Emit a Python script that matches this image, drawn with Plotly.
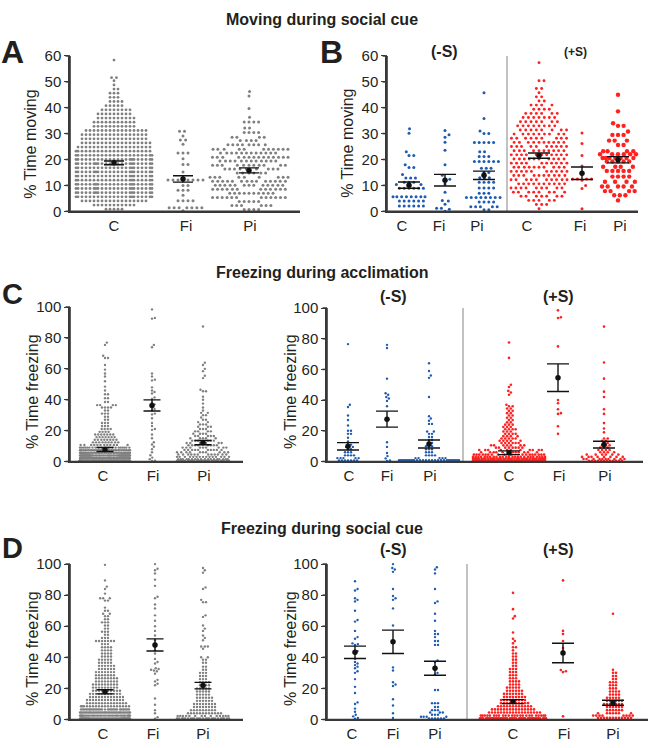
import numpy as np
import plotly.graph_objects as go

W_PX, H_PX = 648, 748
FONT = "Liberation Sans, Arial, sans-serif"
INK = "#231f20"
AXC = "#383838"
GREY = "#808080"
BLUE = "#1e5cb3"
RED = "#ff2020"

CATS3 = ["C", "Fi", "Pi"]
CATS6 = ["C", "Fi", "Pi", "C", "Fi", "Pi"]

# ---------------- data (value levels and number of animals at each level) ----------------
# Panel A : moving during social cue
A_C_v = [0.8, 2.4, 4.0, 5.6, 7.2, 8.8, 10.4, 12.0, 13.6, 15.2, 16.8, 18.4, 20.0, 21.6, 23.2, 24.8, 26.4,
         28.0, 29.6, 31.2, 32.8, 34.4, 36.0, 37.6, 39.2, 40.8, 42.4, 44.0, 45.6, 47.2, 48.8, 50.4, 51.6, 58.4]
A_C_n = [5, 11, 17, 22, 23, 23, 23, 22, 22, 23, 22, 23, 22, 21, 20, 19, 18,
         17, 17, 16, 11, 11, 10, 9, 8, 5, 4, 3, 3, 2, 1, 1, 2, 1]
A_Fi_v = [0.2, 1.4, 4.1, 6.2, 8.1, 10.0, 12.1, 15.2, 18.1, 20.3, 22.5, 25.9, 27.5, 29.1, 30.9]
A_Fi_n = [1, 7, 4, 1, 3, 2, 8, 1, 2, 1, 3, 1, 2, 1, 2]
A_Pi_v = [0.7, 2.2, 3.8, 5.3, 7.0, 8.5, 10.1, 11.6, 13.1, 14.8, 16.3, 17.8, 19.4, 20.9, 22.5, 24.0,
          25.7, 27.3, 28.6, 30.4, 32.2, 34.5, 36.3, 39.7, 44.5, 46.3]
A_Pi_n = [4, 6, 5, 12, 10, 12, 13, 14, 9, 6, 9, 11, 12, 14, 12, 11, 8, 4, 4, 4, 2, 4, 1, 1, 1, 1]
A_mean = [18.7, 12.5, 15.8]
A_sem = [0.75, 1.25, 0.95]

# Panel B : moving during social cue, split by (-S) / (+S)
B_Cm_v = [2.0, 4.0, 5.6, 8.9, 10.3, 11.2, 12.9, 14.2, 16.9, 18.0, 21.5, 23.0, 30.1, 31.9]
B_Cm_n = [6, 6, 8, 6, 2, 3, 3, 1, 2, 1, 2, 1, 1, 1]
B_Fim_v = [0.0, 0.8, 1.2, 2.7, 4.0, 4.2, 7.4, 10.5, 12.4, 13.9, 18.0, 23.6, 26.7, 28.6, 29.6, 31.2]
B_Fim_n = [1, 1, 2, 1, 1, 1, 1, 1, 2, 1, 1, 1, 1, 1, 1, 1]
B_Pim_v = [0.6, 1.8, 3.6, 5.3, 7.0, 9.0, 11.2, 13.0, 15.0, 16.6, 19.2, 21.2, 23.0, 26.6, 30.0, 31.0, 35.8, 45.8]
B_Pim_n = [2, 5, 4, 8, 3, 4, 4, 3, 2, 3, 6, 3, 2, 5, 2, 1, 1, 1]
B_Cp_v = [1.0, 2.6, 4.2, 5.8, 7.4, 9.0, 10.6, 12.2, 13.8, 15.4, 17.0, 18.6, 20.2, 21.8, 23.4, 25.0,
          26.6, 28.2, 29.8, 31.4, 33.0, 34.6, 36.2, 37.8, 39.4, 41.0, 42.6, 44.2, 45.8, 47.4, 50.4, 57.4]
B_Cp_n = [1, 3, 5, 7, 8, 9, 10, 10, 10, 10, 10, 10, 10, 11, 10, 10,
          10, 9, 9, 8, 8, 7, 7, 6, 4, 4, 2, 2, 1, 2, 2, 1]
B_Fip_v = [1.0, 8.8, 10.0, 12.0, 12.5, 17.5, 21.5, 26.2, 30.2]
B_Fip_n = [1, 1, 1, 1, 4, 1, 1, 1, 1]
B_Pip_v = [4.2, 6.2, 7.8, 9.6, 11.4, 13.4, 15.6, 17.2, 19.2, 20.6, 22.0, 23.2, 25.6, 27.3, 29.5, 30.8,
           33.0, 34.0, 38.6, 45.0]
B_Pip_n = [1, 3, 4, 5, 4, 4, 5, 4, 5, 7, 6, 4, 2, 3, 3, 1, 2, 1, 1, 1]
B_mean = [10.1, 12.0, 13.9, 21.5, 14.7, 19.9]
B_sem = [1.2, 2.25, 1.6, 1.0, 2.4, 1.2]

# Panel C left : freezing during acclimation
CL_C_v = [0.5, 2.2, 3.9, 5.6, 7.3, 9.0, 10.7, 12.4, 14.1, 15.8, 17.5, 19.2, 21.0, 23.0, 25.0, 27.0, 29.0,
          31.0, 33.0, 35.0, 36.5, 38.5, 41.0, 43.5, 46.0, 48.5, 52.0, 55.0, 57.0, 59.5, 62.5, 67.0, 68.5,
          75.5, 77.0]
CL_C_n = [110, 80, 55, 45, 32, 20, 12, 9, 8, 7, 7, 4, 4, 3, 3, 2, 2,
          3, 2, 4, 4, 2, 2, 2, 1, 1, 1, 1, 1, 1, 1, 2, 1, 1, 1]
CL_Fi_v = [0.3, 0.5, 1.5, 2.5, 4.0, 6.0, 8.0, 9.5, 11.0, 12.5, 15.0, 17.5, 20.5, 21.0, 23.0, 25.0, 28.0,
           30.5, 31.0, 33.0, 34.0, 36.0, 37.0, 38.0, 40.5, 41.5, 44.0, 45.0, 46.0, 48.0, 52.5, 53.0, 55.0,
           57.0, 74.0, 75.5, 92.5, 93.0, 98.5]
CL_Pi_v = [0.5, 1.5, 3.0, 4.5, 6.0, 7.5, 9.0, 10.5, 12.0, 13.5, 15.0, 16.5, 18.0, 19.5, 21.0, 22.5, 24.0,
           25.5, 27.0, 28.5, 30.0, 31.5, 33.0, 35.0, 37.5, 40.0, 42.0, 45.5, 46.5, 54.0, 55.5, 58.5, 60.0,
           62.5, 64.0, 87.4]
CL_Pi_n = [30, 18, 15, 12, 10, 10, 9, 8, 7, 6, 5, 5, 4, 4, 3, 3, 3,
           2, 2, 1, 2, 2, 1, 1, 1, 1, 1, 2, 1, 1, 1, 1, 1, 1, 1, 1]
CL_mean = [7.8, 36.3, 12.2]
CL_sem = [1.3, 3.6, 1.4]

# Panel C right : freezing during acclimation, (-S) / (+S)
CR_Cm_v = [0.6, 2.2, 4.0, 6.0, 8.0, 9.5, 11.0, 13.0, 15.5, 18.0, 20.0, 23.5, 27.0, 30.0, 35.5, 37.0, 76.5]
CR_Cm_n = [7, 5, 4, 3, 2, 2, 2, 1, 1, 2, 2, 1, 1, 1, 1, 1, 1]
CR_Fim_v = [0.3, 0.6, 2.0, 3.5, 5.5, 9.5, 12.5, 36.0, 39.5, 41.0, 42.0, 43.5, 44.5, 54.0, 74.0, 76.0]
CR_Pim_v = [0.8, 2.2, 4.0, 6.0, 8.0, 10.0, 12.0, 14.0, 16.0, 18.0, 19.5, 24.5, 26.5, 28.0, 29.5, 42.0,
            54.5, 56.0, 59.0, 64.0]
CR_Pim_n = [30, 5, 4, 3, 3, 3, 2, 2, 2, 2, 2, 2, 1, 1, 1, 1, 1, 1, 1, 1]
CR_Cp_v = [0.6, 1.8, 3.0, 4.5, 6.0, 7.5, 9.0, 10.5, 12.0, 13.5, 15.0, 16.5, 18.0, 19.5, 21.0, 22.5, 24.0,
           25.5, 27.0, 28.5, 30.0, 31.5, 33.0, 34.5, 36.0, 37.0, 43.5, 45.0, 46.0, 48.5, 50.0, 67.5, 77.5]
CR_Cp_n = [60, 40, 25, 18, 12, 11, 8, 7, 6, 5, 5, 4, 4, 3, 4, 3, 3,
           2, 2, 2, 2, 2, 2, 2, 2, 1, 1, 1, 1, 1, 1, 1, 1]
CR_Fip_v = [18.0, 23.0, 31.0, 31.5, 34.0, 38.0, 40.0, 75.0, 93.5, 94.0, 98.5]
CR_Pip_v = [0.5, 1.6, 3.0, 4.5, 6.0, 7.5, 9.0, 10.5, 12.0, 13.5, 15.0, 19.0, 21.5, 25.0, 31.0, 34.0,
            42.0, 45.5, 54.0, 64.5, 87.9]
CR_Pip_n = [12, 10, 8, 6, 4, 4, 3, 3, 2, 2, 2, 1, 1, 1, 1, 1, 1, 1, 1, 1, 1]
CR_mean = [9.9, 27.6, 11.4, 5.7, 54.6, 11.0]
CR_sem = [2.4, 5.2, 2.6, 1.2, 9.0, 2.2]

# Panel D left : freezing during social cue
DL_C_v = [0.7, 2.5, 4.5, 6.5, 8.5, 10.5, 12.5, 14.5, 16.5, 18.5, 20.5, 22.5, 24.5, 26.5, 28.5, 30.5,
          32.5, 34.5, 36.5, 38.5, 40.5, 42.5, 44.5, 46.5, 48.5, 50.5, 52.5, 54.5, 56.5, 58.5, 60.5, 62.5,
          64.5, 66.5, 68.0, 70.0, 72.0, 76.5, 78.0, 81.0, 84.0, 85.5, 89.5, 99.5]
DL_C_n = [45, 40, 35, 30, 18, 14, 13, 12, 11, 10, 9, 9, 8, 8, 7, 7,
          6, 6, 5, 5, 4, 4, 4, 4, 3, 7, 3, 2, 3, 2, 2, 3,
          2, 2, 2, 2, 1, 2, 3, 1, 1, 1, 1, 1]
DL_Fi_v = [0.5, 1.5, 4.0, 6.0, 9.5, 13.5, 22.0, 23.0, 24.5, 25.5, 29.5, 31.0, 31.5, 32.0, 32.5, 33.0,
           36.0, 37.0, 39.0, 42.5, 44.5, 46.5, 49.0, 51.0, 54.0, 57.0, 60.0, 63.5, 67.0, 71.5, 74.0, 78.0,
           79.0, 86.0, 90.0, 94.0, 96.0, 97.0, 100.0]
DL_Pi_v = [0.7, 2.2, 4.0, 6.0, 8.0, 10.0, 12.0, 14.0, 16.0, 18.0, 20.0, 22.0, 24.0, 26.0, 28.0, 30.0,
           32.0, 34.0, 36.5, 38.5, 40.0, 45.5, 47.0, 51.0, 52.5, 54.0, 57.0, 58.5, 60.5, 66.0, 67.0, 75.5,
           77.0, 84.0, 85.0, 94.5, 96.0, 97.5]
DL_Pi_n = [25, 14, 12, 9, 8, 8, 6, 6, 5, 5, 5, 4, 4, 3, 3, 3,
           2, 2, 2, 2, 2, 1, 3, 1, 1, 1, 1, 1, 1, 1, 1, 2,
           1, 1, 1, 1, 1, 1]
DL_mean = [17.8, 48.0, 21.8]
DL_sem = [1.3, 3.9, 2.1]

# Panel D right : freezing during social cue, (-S) / (+S)
DR_Cm_v = [0.5, 1.0, 2.0, 3.0, 5.0, 7.0, 10.0, 11.0, 17.0, 21.0, 26.0, 30.0, 31.0, 33.0, 34.0, 35.0,
           36.0, 37.0, 39.0, 43.0, 44.0, 48.0, 48.5, 49.0, 52.0, 53.0, 57.0, 63.0, 64.0, 70.0, 76.0, 77.0,
           78.0, 83.0, 84.0, 89.0]
DR_Fim_v = [1.0, 4.0, 9.0, 13.0, 21.5, 22.5, 24.0, 31.5, 33.5, 60.5, 71.5, 77.0, 78.0, 79.5, 84.0, 95.0,
            96.5, 97.5, 100.0]
DR_Pim_v = [0.6, 1.8, 3.0, 4.5, 6.0, 8.0, 10.5, 19.0, 29.0, 30.0, 37.0, 38.0, 48.0, 50.5, 53.0, 55.0,
            57.0, 63.5, 68.0, 75.0, 76.0, 84.0, 94.0, 96.5, 98.0]
DR_Pim_n = [6, 4, 3, 3, 3, 2, 3, 2, 1, 1, 1, 1, 2, 2, 1, 2, 1, 1, 1, 1, 1, 1, 1, 1, 1]
DR_Cp_v = [0.8, 2.5, 4.5, 6.5, 8.5, 10.5, 12.5, 14.5, 16.5, 18.5, 20.5, 22.5, 24.5, 26.5, 28.5, 30.5,
           32.5, 34.5, 36.5, 38.5, 40.5, 42.5, 44.5, 46.5, 49.0, 50.5, 52.0, 56.0, 65.0, 66.5, 71.0, 81.5]
DR_Cp_n = [40, 24, 18, 15, 12, 10, 9, 8, 7, 6, 5, 4, 4, 3, 3, 3,
           3, 2, 2, 2, 2, 2, 1, 2, 1, 1, 1, 1, 1, 1, 1, 1]
DR_Fip_v = [2.0, 30.5, 31.0, 31.8, 44.0, 46.0, 50.5, 55.0, 57.0, 89.5]
DR_Pip_v = [1.0, 2.5, 4.0, 6.0, 8.0, 10.0, 12.0, 14.0, 16.0, 18.0, 20.0, 22.0, 24.0, 26.0, 28.0, 30.0,
            32.0, 68.0]
DR_Pip_n = [12, 8, 7, 6, 6, 7, 6, 5, 4, 4, 3, 3, 3, 2, 2, 2, 1, 1]
DR_mean = [43.2, 50.0, 33.0, 11.5, 42.8, 10.8]
DR_sem = [4.0, 7.5, 4.5, 1.3, 6.3, 1.6]


# ---------------- beeswarm layout (pixel offsets) ----------------
def swarm(values, counts, ppu, D, W):
    vals = np.asarray(values, float)
    cnt = np.ones(len(vals), int) if counts is None else np.asarray(counts, int)
    ys = np.sort(np.repeat(vals, cnt), kind="stable")
    py_ = ys * ppu
    xs = np.zeros(len(ys))
    for i in range(1, len(ys)):
        dy = py_[:i] - py_[i]
        m = np.abs(dy) < D
        if not m.any():
            continue
        nx, ndy = xs[:i][m], dy[m]
        h = np.sqrt(D * D - ndy * ndy)
        c = np.concatenate([[0.0], nx + h, nx - h])
        c = c[np.abs(c) <= W + 1e-6]
        if len(c):
            c = c[np.argsort(np.abs(c) + 1e-7 * (c < 0), kind="stable")]
            d2 = (c[:, None] - nx[None, :]) ** 2 + ndy[None, :] ** 2
            ok = np.all(d2 >= D * D - 1e-6, axis=1)
            if ok.any():
                xs[i] = c[np.argmax(ok)]
                continue
        grid = np.linspace(-W, W, 81)
        clear = np.sqrt(((grid[:, None] - nx[None, :]) ** 2 + ndy[None, :] ** 2).min(axis=1))
        xs[i] = grid[np.argmax(clear + 0.03 * np.abs(grid) / max(W, 1))]
    return xs, ys


# ---------------- panel layout (pixel geometry) ----------------
panels = [
    dict(groups=[(A_C_v, A_C_n), (A_Fi_v, A_Fi_n), (A_Pi_v, A_Pi_n)], mean=A_mean, sem=A_sem, cats=CATS3,
         xpx=(70, 300), ypx=(48, 207), ymax=60, dtick=10,
         centers=[114, 183, 249], tickpos=[114, 186, 250], half=[38, 25, 39], D=[4.0, 5.0, 4.8],
         size=[2.8, 3.0, 3.0], colors=[GREY, GREY, GREY], eb=10, divider=None),
    dict(groups=[(B_Cm_v, B_Cm_n), (B_Fim_v, B_Fim_n), (B_Pim_v, B_Pim_n),
                 (B_Cp_v, B_Cp_n), (B_Fip_v, B_Fip_n), (B_Pip_v, B_Pip_n)], mean=B_mean, sem=B_sem, cats=CATS6,
         xpx=(387, 638), ypx=(48, 207), ymax=60, dtick=10,
         centers=[409, 445, 484, 539, 582, 618], tickpos=[402, 439, 477, 527, 580, 620],
         half=[16, 10, 19, 28, 10, 18], D=[4.8, 4.8, 4.8, 5.0, 4.8, 5.6],
         size=[3.0, 3.0, 3.0, 2.9, 3.0, 4.4], colors=[BLUE, BLUE, BLUE, RED, RED, RED], eb=11, divider=507),
    dict(groups=[(CL_C_v, CL_C_n), (CL_Fi_v, None), (CL_Pi_v, CL_Pi_n)], mean=CL_mean, sem=CL_sem, cats=CATS3,
         xpx=(70, 243), ypx=(305, 463), ymax=100, dtick=20,
         centers=[105, 152, 203], tickpos=[103, 153, 204], half=[25, 10, 26], D=[3.0, 3.0, 3.0],
         size=[2.4, 2.4, 2.4], colors=[GREY, GREY, GREY], eb=8.5, divider=None),
    dict(groups=[(CR_Cm_v, CR_Cm_n), (CR_Fim_v, None), (CR_Pim_v, CR_Pim_n),
                 (CR_Cp_v, CR_Cp_n), (CR_Fip_v, None), (CR_Pip_v, CR_Pip_n)], mean=CR_mean, sem=CR_sem, cats=CATS6,
         xpx=(327, 643), ypx=(306, 463), ymax=100, dtick=20,
         centers=[348, 387, 429, 509, 558, 604], tickpos=[349, 387, 430, 509, 559, 605],
         half=[13, 6, 30, 36, 6, 22], D=[3.0] * 6,
         size=[2.4, 2.4, 2.4, 2.6, 2.6, 2.6], colors=[BLUE, BLUE, BLUE, RED, RED, RED], eb=11, divider=463),
    dict(groups=[(DL_C_v, DL_C_n), (DL_Fi_v, None), (DL_Pi_v, DL_Pi_n)], mean=DL_mean, sem=DL_sem, cats=CATS3,
         xpx=(70, 243), ypx=(568, 727), ymax=100, dtick=20,
         centers=[105, 155, 203], tickpos=[103, 153, 203], half=[25, 10, 26], D=[3.0, 3.0, 3.0],
         size=[2.4, 2.4, 2.4], colors=[GREY, GREY, GREY], eb=8.5, divider=None),
    dict(groups=[(DR_Cm_v, None), (DR_Fim_v, None), (DR_Pim_v, DR_Pim_n),
                 (DR_Cp_v, DR_Cp_n), (DR_Fip_v, None), (DR_Pip_v, DR_Pip_n)], mean=DR_mean, sem=DR_sem, cats=CATS6,
         xpx=(327, 648), ypx=(568, 727), ymax=100, dtick=20,
         centers=[355, 393, 435, 513, 563, 613], tickpos=[352, 393, 435, 513, 564, 613],
         half=[10, 8, 14, 33, 8, 20], D=[3.0] * 6,
         size=[2.4, 2.4, 2.4, 2.6, 2.6, 2.6], colors=[BLUE, BLUE, BLUE, RED, RED, RED], eb=11, divider=467),
]

fig = go.Figure()
layout_axes = {}
frame_x, frame_y = [], []   # axis lines + y ticks, drawn on a full-page overlay axis
div_x, div_y = [], []       # (-S)/(+S) dividers
for k, p in enumerate(panels, start=1):
    xa = "x" if k == 1 else f"x{k}"
    ya = "y" if k == 1 else f"y{k}"
    ppu = (p["ypx"][1] - p["ypx"][0]) / p["ymax"]
    for g, (v, n) in enumerate(p["groups"]):
        xs, ys = swarm(v, n, ppu, p["D"][g], p["half"][g])
        fig.add_trace(go.Scatter(
            x=p["centers"][g] + xs, y=ys, mode="markers",
            marker=dict(size=p["size"][g], color=p["colors"][g], line=dict(width=0)),
            xaxis=xa, yaxis=ya, hoverinfo="skip", showlegend=False, cliponaxis=False))
    ex, ey = [], []
    for g, c in enumerate(p["centers"]):
        m, s, h = p["mean"][g], p["sem"][g], p["eb"]
        ex += [c - h, c + h, None, c - h, c + h, None, c, c, None]
        ey += [m + s, m + s, None, m - s, m - s, None, m - s, m + s, None]
    fig.add_trace(go.Scatter(x=ex, y=ey, mode="lines", line=dict(color="#111111", width=1.4),
                             xaxis=xa, yaxis=ya, hoverinfo="skip", showlegend=False, cliponaxis=False))
    fig.add_trace(go.Scatter(x=p["centers"], y=p["mean"], mode="markers",
                             marker=dict(size=5.5, color="#111111"),
                             xaxis=xa, yaxis=ya, hoverinfo="skip", showlegend=False, cliponaxis=False))

    x0, x1 = p["xpx"]
    yt, yb = p["ypx"]
    layout_axes["xaxis" if k == 1 else f"xaxis{k}"] = dict(
        domain=[x0 / W_PX, x1 / W_PX], range=[x0, x1], anchor=ya,
        showline=True, linecolor=AXC, linewidth=1.5, showgrid=False, zeroline=False,
        ticks="", tickvals=p["tickpos"], ticktext=p["cats"],
        tickfont=dict(family=FONT, size=15, color=INK))
    layout_axes["yaxis" if k == 1 else f"yaxis{k}"] = dict(
        domain=[1 - yb / H_PX, 1 - yt / H_PX], range=[0, p["ymax"]], anchor=xa,
        showline=True, linecolor=AXC, linewidth=1.5, showgrid=False, zeroline=False,
        ticks="outside", ticklen=4, tickwidth=1.3, tickcolor=AXC, dtick=p["dtick"],
        tickfont=dict(family=FONT, size=15, color=INK))
    frame_x += [x0, x0, x1, None]
    frame_y += [yt, yb, yb, None]
    for t in range(0, p["ymax"] + 1, p["dtick"]):
        ty = yb - t * ppu
        frame_x += [x0 - 4.5, x0, None]
        frame_y += [ty, ty, None]
    if p["divider"] is not None:
        div_x += [p["divider"], p["divider"], None]
        div_y += [yt, yb, None]

# overlay axis covering the full page, 1 unit = 1 pixel
layout_axes["xaxis7"] = dict(domain=[0, 1], range=[0, W_PX], visible=False, anchor="y7")
layout_axes["yaxis7"] = dict(domain=[0, 1], range=[H_PX, 0], visible=False, anchor="x7")
fig.add_trace(go.Scatter(x=div_x, y=div_y, mode="lines", line=dict(color="#a0a0a0", width=1.3),
                         xaxis="x7", yaxis="y7", hoverinfo="skip", showlegend=False))
fig.add_trace(go.Scatter(x=frame_x, y=frame_y, mode="lines", line=dict(color=AXC, width=1.6),
                         xaxis="x7", yaxis="y7", hoverinfo="skip", showlegend=False))


def txt(text, xpx, ypx, size, angle=0):
    return dict(text=text, x=xpx / W_PX, y=1 - ypx / H_PX, xref="paper", yref="paper", showarrow=False,
                font=dict(family=FONT, size=size, color=INK), textangle=angle,
                xanchor="center", yanchor="middle")


annotations = [
    txt("<b>Moving during social cue</b>", 322, 11, 16),
    txt("<b>Freezing during acclimation</b>", 322, 270, 16),
    txt("<b>Freezing during social cue</b>", 322, 532, 16),
    txt("<b>A</b>", 12, 44, 32),
    txt("<b>B</b>", 331, 44, 32),
    txt("<b>C</b>", 12, 292, 29),
    txt("<b>D</b>", 12, 552, 29),
    txt("% Time moving", 31, 139, 16, -90),
    txt("% Time moving", 348, 138, 16, -90),
    txt("% Time freezing", 32, 392, 16, -90),
    txt("% Time freezing", 290, 392, 16, -90),
    txt("% Time freezing", 32, 655, 16, -90),
    txt("% Time freezing", 290, 655, 16, -90),
    txt("<b>(-S)</b>", 444, 43, 16),
    txt("<b>(+S)</b>", 575, 44, 12),
    txt("<b>(-S)</b>", 393, 294, 16),
    txt("<b>(+S)</b>", 558, 294, 16),
    txt("<b>(-S)</b>", 393, 553, 16),
    txt("<b>(+S)</b>", 558, 553, 16),
]

fig.update_layout(
    width=W_PX, height=H_PX, autosize=False,
    margin=dict(l=0, r=0, t=0, b=0, pad=0),
    paper_bgcolor="white", plot_bgcolor="rgba(0,0,0,0)",
    showlegend=False, annotations=annotations,
    font=dict(family=FONT, color=INK),
    **layout_axes,
)

fig.write_html("out.html", config={"displayModeBar": False},
               post_script="document.documentElement.style.margin='0';document.body.style.margin='0';")
